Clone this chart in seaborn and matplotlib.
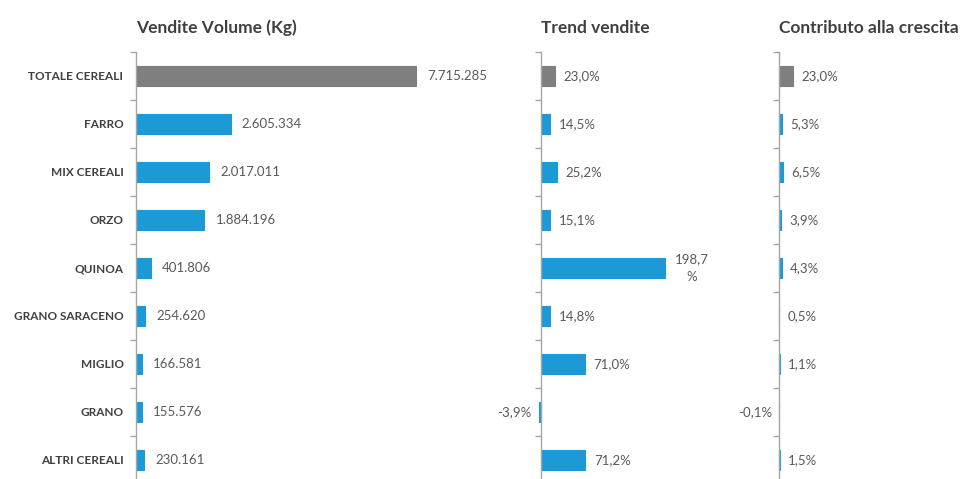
import matplotlib
matplotlib.use("Agg")
import matplotlib.pyplot as plt
import seaborn as sns
import pandas as pd
import numpy as np

categories = ["TOTALE CEREALI", "FARRO", "MIX CEREALI", "ORZO", "QUINOA",
              "GRANO SARACENO", "MIGLIO", "GRANO", "ALTRI CEREALI"]
volume_kg = [7715285, 2605334, 2017011, 1884196, 401806, 254620, 166581, 155576, 230161]
trend_pct = [23.0, 14.5, 25.2, 15.1, 198.7, 14.8, 71.0, -3.9, 71.2]
contrib_pct = [23.0, 5.3, 6.5, 3.9, 4.3, 0.5, 1.1, -0.1, 1.5]
titles = ["Vendite Volume (Kg)", "Trend vendite", "Contributo alla crescita"]

sns.set_theme(style="white")
plt.rcParams["font.family"] = ["Lato", "DejaVu Sans"]

GRAY = "#7f7f7f"
BLUE = "#1b9ad6"
TXT = "#404040"
VAL = "#595959"
palette = {c: (GRAY if i == 0 else BLUE) for i, c in enumerate(categories)}

df = pd.DataFrame({"cat": categories, "vol": volume_kg,
                   "trend": trend_pct, "contrib": contrib_pct})

W, H = 960, 479
fig = plt.figure(figsize=(W / 100, H / 100), dpi=100)

def px_axes(x0, x1, y0=52, y1=484):
    return fig.add_axes([x0 / W, (H - y1) / H, (x1 - x0) / W, (y1 - y0) / H])

def it_int(v):
    return f"{v:,.0f}".replace(",", ".")

def it_pct(v):
    return f"{v:.1f}".replace(".", ",") + "%"

# panel geometry: (axes left px, axes right px, zero px, px per unit)
panels = [
    ("vol", 136, 520, 136, 280 / 7715285),
    ("trend", 515, 765, 541, 124 / 198.7),
    ("contrib", 755, 960, 779, 0.6),
]

for k, (col, x0, x1, z, scale) in enumerate(panels):
    ax = px_axes(x0, x1)
    sns.barplot(data=df, y="cat", x=col, hue="cat", palette=palette, legend=False,
                orient="h", width=0.4, ax=ax, saturation=1)
    for p in ax.patches:
        p.set_edgecolor(p.get_facecolor())
        p.set_linewidth(0.8)
    ax.set_xlim(-(z - x0) / scale, (x1 - z) / scale)
    ax.set_ylim(len(categories) - 0.5, -0.5)
    for s in ["top", "right", "bottom"]:
        ax.spines[s].set_visible(False)
    ax.spines["left"].set_position(("data", 0))
    ax.spines["left"].set_color("#a6a6a6")
    ax.spines["left"].set_linewidth(1.0)
    ax.set_xticks([])
    ax.set_xlabel("")
    ax.set_ylabel("")
    ax.set_yticks(np.arange(len(categories)))
    ax.set_yticks(np.arange(len(categories) + 1) - 0.5, minor=True)
    ax.tick_params(axis="y", which="major", left=True, length=0, pad=9)
    ax.tick_params(axis="y", which="minor", left=True, length=4, color="#a6a6a6",
                   width=1, direction="out")
    if k == 0:
        ax.set_yticklabels(categories, fontsize=8.5, fontweight="bold", color=TXT)
    else:
        ax.set_yticklabels([])
    ax.patch.set_alpha(0)

    vals = df[col].tolist()
    for i, v in enumerate(vals):
        if col == "vol":
            label = it_int(v)
        elif col == "trend" and v > 150:
            label = it_pct(v).replace(",7%", ",7\n%")
        else:
            label = it_pct(v)
        if v < 0:
            ax.annotate(label, xy=(v, i), xytext=(-5, 0), textcoords="offset points",
                        ha="right", va="center", fontsize=9.5, color=VAL,
                        annotation_clip=False)
        elif "\n" in label:
            ax.annotate(label, xy=(v, i), xytext=(19, 0), textcoords="offset points",
                        ha="center", va="center", fontsize=9.5, color=VAL,
                        linespacing=1.6, multialignment="center", annotation_clip=False)
        else:
            off = 8 if col == "vol" else 6
            ax.annotate(label, xy=(v, i), xytext=(off, 0), textcoords="offset points",
                        ha="left", va="center", fontsize=9.5, color=VAL,
                        annotation_clip=False)

    fig.text(z / W, 1 - 28 / H, titles[k], ha="left", va="center",
             fontsize=12.5, fontweight="bold", color=TXT)

fig.savefig("out.png", dpi=100, facecolor="white")
